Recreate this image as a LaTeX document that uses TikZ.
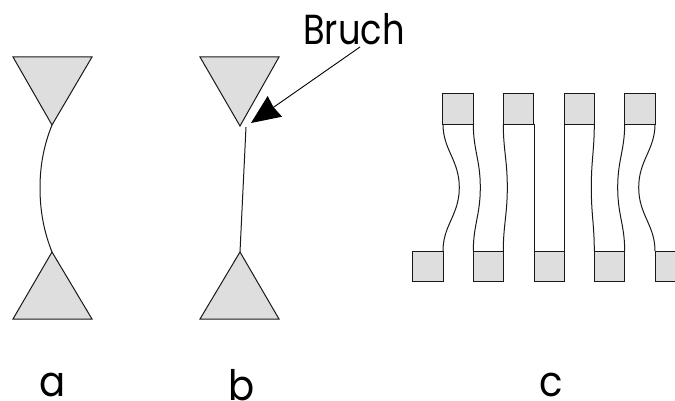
\documentclass[tikz,border=0pt]{standalone}
\usepackage{fontspec}
\setmainfont{Poppins}
\usetikzlibrary{arrows.meta}
\definecolor{padgray}{RGB}{222,222,222}
\tikzset{
  pad/.style={draw=black!90,fill=padgray,line width=1pt,line join=miter},
  wire/.style={draw=black!90,line width=1pt},
  lab/.style={inner sep=0pt,anchor=base,font=\fontsize{42pt}{46pt}\selectfont},
  brk/.style={draw=black,line width=0.9pt,-{Stealth[length=29pt,width=25pt,inset=1.5pt]}}
}
\newcommand{\strip}[2]{% x at ends, bulge x
  \draw[wire] (#1,124) .. controls (#1,150) and (#2,160) .. (#2,187.5) .. controls (#2,215) and (#1,225) .. (#1,251);
}
\begin{document}
\begin{tikzpicture}[x=1pt,y=-1pt]
\useasboundingbox (0,0) rectangle (675,401);
% a
\draw[pad] (13,57) -- (92,57) -- (52,125) -- cycle;
\draw[pad] (13,319) -- (92,319) -- (52,252) -- cycle;
\draw[wire] (52,125) .. controls (44,145) and (40,165) .. (40,188) .. controls (40,211) and (44,232) .. (52,252);
% b
\draw[pad] (200,57) -- (279,57) -- (240,126) -- cycle;
\draw[pad] (200,319) -- (279,319) -- (240,252) -- cycle;
\coordinate (bu) at (246,127);
\coordinate (bl) at (240,252);
\draw[wire] (bu) -- (bl);
\node[lab,xscale=0.84] (bruch) at (354,45) {Bruch};
\coordinate (from) at (360,47);
\coordinate (tip) at (251,123);
\draw[brk] (from) -- (tip);
% c
\strip{443}{459.3}
\strip{473.3}{480.3}
\strip{503.3}{507.3}
\draw[wire] (534,124) -- (534,251);
\draw[wire] (564,124) -- (564,251);
\strip{594.3}{591.3}
\strip{624.7}{617.7}
\strip{655}{638.7}
\foreach \x in {442.7,503.3,564,624.7} \draw[pad] (\x,94) rectangle ++(30.5,30.3);
\foreach \x in {412.7,473.3,534,594.3} \draw[pad] (\x,251) rectangle ++(30.5,30.3);
\fill[padgray] (655,251) rectangle (675,281.3);
\draw[pad,fill=none] (675,251) -- (655,251) -- (655,281.3) -- (675,281.3);
% labels
\node[lab,xscale=0.92] (la) at (53,396.5) {a};
\node[lab,xscale=0.92] (lb) at (242,400) {b};
\node[lab,xscale=0.92] (lc) at (551,396.5) {c};
\end{tikzpicture}
\end{document}
